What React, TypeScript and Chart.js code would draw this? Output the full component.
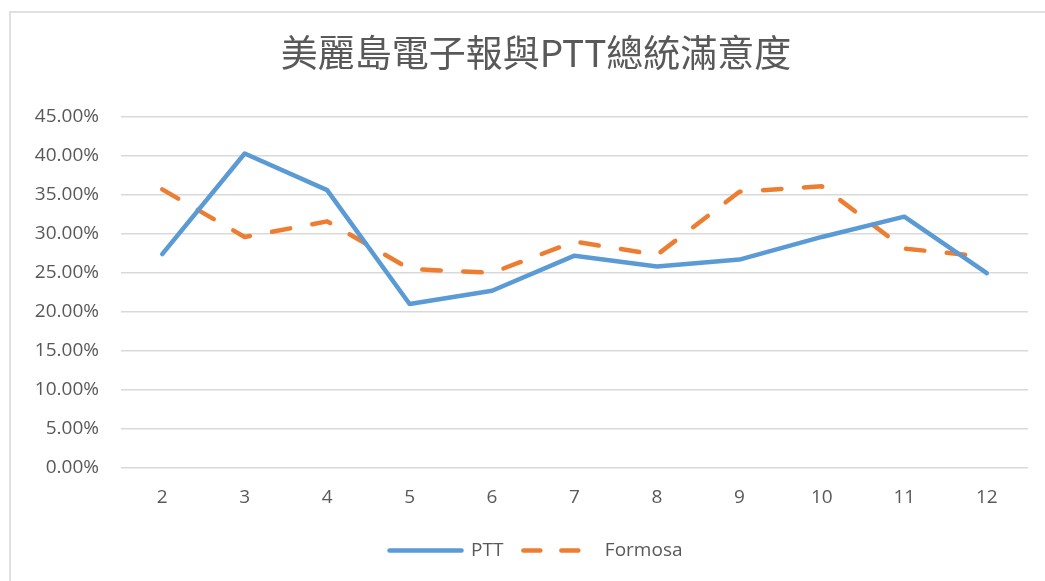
import React, { useEffect, useRef } from "react";
import { Chart, registerables } from "chart.js";

Chart.register(...registerables);

const chartTitle = "美麗島電子報與PTT總統滿意度";
const months = ["2", "3", "4", "5", "6", "7", "8", "9", "10", "11", "12"];
const pttValues = [27.4, 40.3, 35.6, 21.0, 22.7, 27.2, 25.8, 26.7, 29.6, 32.2, 24.95];
const formosaValues = [35.7, 29.6, 31.6, 25.5, 25.0, 29.0, 27.3, 35.4, 36.1, 28.1, 27.05];
const seriesNames = ["PTT", "Formosa"];
const yMin = 0;
const yMax = 45;
const yStep = 5;

const textColor = "#595959";
const gridColor = "#d9d9d9";
const blue = "#5B9BD5";
const orange = "#ED7D31";
const font = "'Open Sans', 'Noto Sans', sans-serif";

const CANVAS_W = 1079;
const CANVAS_H = 581;

export default function App() {
  const canvasRef = useRef<HTMLCanvasElement | null>(null);

  useEffect(() => {
    document.body.style.margin = "0";
    document.body.style.overflow = "hidden";
    const ctx = canvasRef.current;
    if (!ctx) return;
    const chart = new Chart(ctx, {
      type: "line",
      data: {
        labels: months,
        datasets: [
          {
            label: seriesNames[0],
            data: pttValues,
            borderColor: blue,
            backgroundColor: blue,
            borderWidth: 4.5,
            borderCapStyle: "round",
            borderJoinStyle: "round",
            pointRadius: 0,
            pointHoverRadius: 0,
            tension: 0,
            fill: false,
          },
          {
            label: seriesNames[1],
            data: formosaValues,
            borderColor: orange,
            backgroundColor: orange,
            borderWidth: 4.5,
            borderDash: [18.5, 22.5],
            borderCapStyle: "round",
            borderJoinStyle: "round",
            pointRadius: 0,
            pointHoverRadius: 0,
            tension: 0,
            fill: false,
          },
        ],
      },
      options: {
        animation: false,
        responsive: false,
        maintainAspectRatio: false,
        layout: { padding: { left: 10, right: 17, top: 0, bottom: 11 } },
        plugins: {
          tooltip: { enabled: false },
          title: {
            display: true,
            text: chartTitle,
            color: textColor,
            font: { family: "'Noto Sans CJK TC', sans-serif", size: 37, weight: "normal", lineHeight: 1.2 },
            padding: { top: 30.5, bottom: 42 },
          },
          legend: {
            display: true,
            position: "bottom",
            labels: {
              usePointStyle: true,
              pointStyle: "line",
              pointStyleWidth: 72,
              color: textColor,
              font: { family: font, size: 19 },
              padding: 20,
              generateLabels: (c: any) => {
                const items = Chart.defaults.plugins.legend.labels.generateLabels(c);
                return items.map((it: any) => {
                  const ds: any = c.data.datasets[it.datasetIndex];
                  return {
                    ...it,
                    lineDash: ds.borderDash ? [17, 21] : [],
                    lineDashOffset: 0,
                    lineCap: "round",
                    lineWidth: 4.5,
                    strokeStyle: ds.borderColor,
                    fillStyle: ds.borderColor,
                  };
                });
              },
            },
          },
        },
        scales: {
          x: {
            offset: true,
            grid: { display: false, drawTicks: false, offset: true },
            border: { display: false },
            ticks: { color: textColor, font: { family: font, size: 19 }, padding: 18.3 },
            afterFit: (scale: any) => {
              scale.height = 53.3;
            },
          },
          y: {
            min: yMin,
            max: yMax,
            grid: { color: gridColor, lineWidth: 1.5, drawTicks: false },
            border: { display: false },
            ticks: {
              stepSize: yStep,
              color: textColor,
              font: { family: font, size: 19 },
              padding: 22,
              callback: (v: any) => Number(v).toFixed(2) + "%",
            },
            afterFit: (scale: any) => {
              scale.width = 111;
            },
          },
          yRightSpacer: {
            type: "linear",
            position: "right",
            display: true,
            grid: { display: false, drawTicks: false },
            border: { display: false },
            ticks: { display: false },
            afterFit: (scale: any) => {
              scale.width = 34;
            },
          },
        },
      },
    });
    return () => chart.destroy();
  }, []);

  return (
    <div style={{ position: "fixed", left: 0, top: 0, width: 1045, height: 581, overflow: "hidden", background: "#fff" }}>
      <div
        style={{
          position: "absolute",
          left: 9,
          top: 11,
          width: 1100,
          height: 700,
          border: "2px solid #e0e0e0",
        }}
      />
      <canvas ref={canvasRef} width={CANVAS_W} height={CANVAS_H} style={{ position: "absolute", left: 0, top: 0 }} />
    </div>
  );
}
